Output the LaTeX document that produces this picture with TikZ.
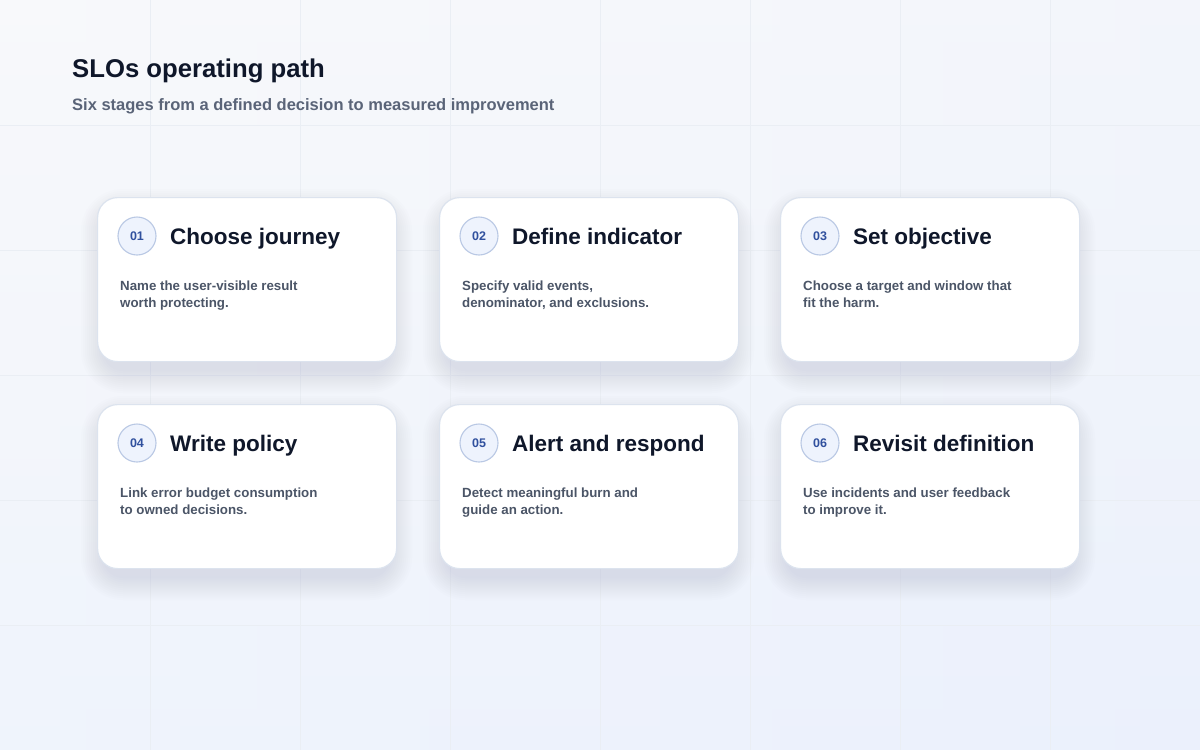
\documentclass[tikz,border=0pt]{standalone}
\usepackage{fontspec}
\setmainfont{Liberation Sans}
\definecolor{bgTL}{HTML}{F8F9FB}
\definecolor{bgR}{HTML}{EEF2FB}
\definecolor{bgB}{HTML}{E9F0FD}
\definecolor{gridc}{HTML}{EAEEF4}
\definecolor{inkdark}{HTML}{0F172A}
\definecolor{inksub}{HTML}{5A6478}
\definecolor{inkdesc}{HTML}{4B5567}
\definecolor{cardborder}{HTML}{DCE3EE}
\definecolor{shadowc}{HTML}{8C94AE}
\definecolor{badgefill}{HTML}{EEF3FD}
\definecolor{badgeline}{HTML}{B9C8E4}
\definecolor{badgeink}{HTML}{30509E}
\tikzset{
  cardbox/.style={draw=cardborder, line width=1.2pt, fill=white, rounded corners=20pt,
    minimum width=299pt, minimum height=164pt, anchor=north west, inner sep=0pt},
  badge/.style={circle, draw=badgeline, line width=1.1pt, fill=badgefill, minimum size=38pt,
    inner sep=0pt, text=badgeink, font=\bfseries\fontsize{12.5}{14}\selectfont},
  cardtitle/.style={anchor=base west, inner sep=0pt, text=inkdark, font=\bfseries\fontsize{22.5}{26}\selectfont},
  carddesc/.style={anchor=base west, inner sep=0pt, text=inkdesc, font=\bfseries\fontsize{13.3}{17}\selectfont},
}
\newcommand{\stagecard}[7]{%
  % #1 name, #2 x0, #3 y0, #4 number, #5 title, #6 line1, #7 line2
  \foreach \e in {0,2,...,22}{
    \fill[shadowc, opacity=0.014, rounded corners=20pt+\e pt]
      (#2-\e+6, #3+14-\e) rectangle (#2+299+\e-6, #3+164+10+\e);
  }
  \node[cardbox] (#1) at (#2,#3) {};
  \node[badge] (#1b) at (#2+40,#3+39) {#4};
  \node[cardtitle] (#1t) at (#2+73,#3+47) {#5};
  \node[carddesc] (#1d1) at (#2+23,#3+93) {#6};
  \node[carddesc] (#1d2) at (#2+23,#3+110) {#7};
}
\begin{document}
\begin{tikzpicture}[x=1pt,y=-1pt]
\useasboundingbox (0,0) rectangle (1200,750);
\shade[left color=bgTL, right color=bgR] (0,0) rectangle (1200,750);
\shade[top color=bgTL, bottom color=bgB, opacity=0.55] (0,0) rectangle (1200,750);
\foreach \gx in {150,300,...,1050} \draw[gridc, line width=0.7pt] (\gx,0) -- (\gx,750);
\foreach \gy in {125,250,...,625} \draw[gridc, line width=0.7pt] (0,\gy) -- (1200,\gy);
\node[anchor=base west, inner sep=0pt, text=inkdark, font=\bfseries\fontsize{25.7}{30}\selectfont] (title) at (72,77) {SLOs operating path};
\node[anchor=base west, inner sep=0pt, text=inksub, font=\bfseries\fontsize{16.5}{20}\selectfont] (subtitle) at (72,110) {Six stages from a defined decision to measured improvement};
\stagecard{s1}{97}{197}{01}{Choose journey}{Name the user-visible result}{worth protecting.}
\stagecard{s2}{439}{197}{02}{Define indicator}{Specify valid events,}{denominator, and exclusions.}
\stagecard{s3}{780}{197}{03}{Set objective}{Choose a target and window that}{fit the harm.}
\stagecard{s4}{97}{404}{04}{Write policy}{Link error budget consumption}{to owned decisions.}
\stagecard{s5}{439}{404}{05}{Alert and respond}{Detect meaningful burn and}{guide an action.}
\stagecard{s6}{780}{404}{06}{Revisit definition}{Use incidents and user feedback}{to improve it.}
\end{tikzpicture}
\end{document}
